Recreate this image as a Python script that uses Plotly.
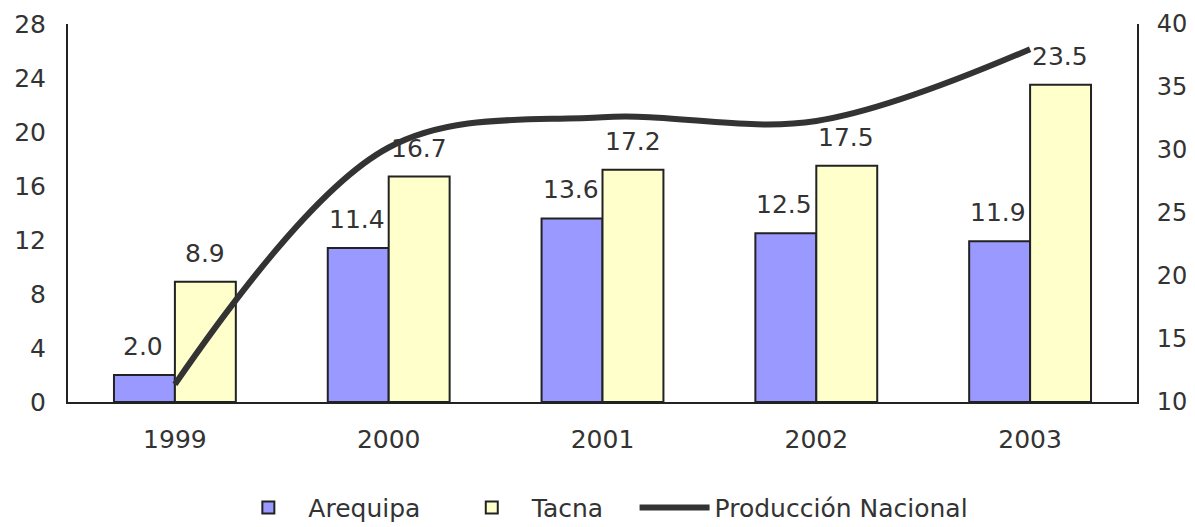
import plotly.graph_objects as go

years = ["1999", "2000", "2001", "2002", "2003"]
arequipa = [2.0, 11.4, 13.6, 12.5, 11.9]
tacna = [8.9, 16.7, 17.2, 17.5, 23.5]
produccion = [11.4, 30.2, 32.6, 32.3, 38.0]

left_ticks = [0, 4, 8, 12, 16, 20, 24, 28]
right_ticks = [10, 15, 20, 25, 30, 35, 40]

font_family = "DejaVu Sans"
txt_color = "#333333"

fig = go.Figure()

fig.add_trace(go.Bar(
    x=years, y=arequipa, name="Arequipa", legend="legend",
    marker=dict(color="#9999FF", line=dict(color="#222222", width=2)),
))
fig.add_trace(go.Bar(
    x=years, y=tacna, name="Tacna", legend="legend2",
    marker=dict(color="#FFFFCC", line=dict(color="#222222", width=2)),
))
fig.add_trace(go.Scatter(
    x=years, y=produccion, name="Producción Nacional", yaxis="y2", legend="legend3",
    mode="lines", line=dict(color="#333333", width=6, shape="spline", smoothing=1.0),
))

# value labels above the bars (x given as category index)
for vals, shift in [(arequipa, -31), (tacna, 31)]:
    for i, v in enumerate(vals):
        fig.add_annotation(
            x=i, y=v, xref="x", yref="y", text=f"{v:.1f}",
            showarrow=False, xshift=shift - 1, yshift=12, yanchor="bottom",
            font=dict(family=font_family, size=25, color=txt_color),
        )

axis_font = dict(family=font_family, size=25, color=txt_color)
leg_font = dict(family=font_family, size=25, color=txt_color)
leg_common = dict(orientation="h", y=-0.28, yanchor="middle", xanchor="left",
                  font=leg_font, itemwidth=70, bgcolor="rgba(0,0,0,0)")

# page body has an 8px default margin, margins below compensate for it
fig.update_layout(
    width=1195, height=535,
    margin=dict(l=60, r=66, t=16, b=139),
    paper_bgcolor="white", plot_bgcolor="white",
    barmode="group", bargap=0.43, bargroupgap=0,
    showlegend=True,
    legend=dict(x=0.150, **leg_common),
    legend2=dict(x=0.359, **leg_common),
    legend3=dict(x=0.530, **leg_common),
    xaxis=dict(
        type="category", range=[-0.5, len(years) - 0.5], automargin=False,
        showline=True, linecolor="#222222", linewidth=2, showgrid=False,
        ticks="", tickfont=axis_font, ticklabelstandoff=14,
    ),
    yaxis=dict(
        range=[0, 28], tickvals=left_ticks, showline=True, linecolor="#222222",
        linewidth=2, showgrid=False, zeroline=False, ticks="", automargin=False,
        tickfont=axis_font, ticklabelstandoff=15,
    ),
    yaxis2=dict(
        range=[10, 40], tickvals=right_ticks, overlaying="y", side="right",
        showline=True, linecolor="#222222", linewidth=2, showgrid=False,
        zeroline=False, ticks="", automargin=False,
        tickfont=dict(family=font_family, size=24, color=txt_color),
        ticklabelstandoff=13,
    ),
)

fig.write_html("out.html")
